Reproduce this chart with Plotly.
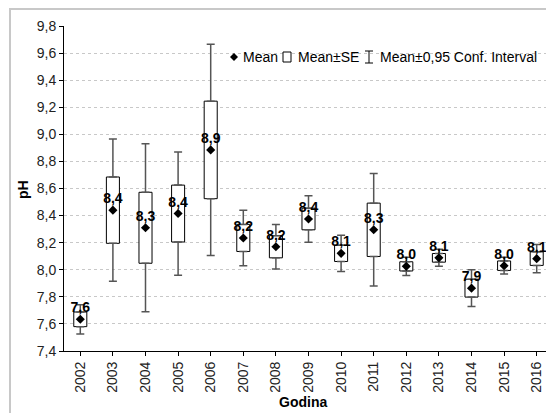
import plotly.graph_objects as go

years = ['2002', '2003', '2004', '2005', '2006', '2007', '2008', '2009',
         '2010', '2011', '2012', '2013', '2014', '2015', '2016']
means = [7.634, 8.44, 8.31, 8.415, 8.885, 8.235, 8.17, 8.375,
         8.121, 8.295, 8.025, 8.088, 7.864, 8.03, 8.082]
se = [0.054, 0.245, 0.262, 0.21, 0.36, 0.10, 0.082, 0.08,
      0.06, 0.197, 0.034, 0.032, 0.066, 0.035, 0.05]
ci = [0.108, 0.525, 0.62, 0.455, 0.78, 0.205, 0.165, 0.172,
      0.133, 0.415, 0.067, 0.063, 0.136, 0.062, 0.104]

y_ticks = [7.4, 7.6, 7.8, 8.0, 8.2, 8.4, 8.6, 8.8, 9.0, 9.2, 9.4, 9.6, 9.8]
y_ticktext = [f'{v:.1f}'.replace('.', ',') for v in y_ticks]
labels = [f'{m:.1f}'.replace('.', ',') for m in means]

FONT = 'Liberation Sans, Arial, sans-serif'
WHISK = '#555555'

box_lo = [m - s for m, s in zip(means, se)]
box_hi = [m + s for m, s in zip(means, se)]
whisk_len = [c - s for c, s in zip(ci, se)]
zeros = [0] * len(years)

fig = go.Figure()

# whiskers: upper part from box top, lower part from box bottom
fig.add_trace(go.Scatter(
    x=years, y=box_hi, mode='markers',
    marker=dict(size=1, color='rgba(0,0,0,0)'),
    error_y=dict(type='data', symmetric=False, array=whisk_len, arrayminus=zeros,
                 color=WHISK, thickness=1.5, width=4),
    showlegend=False, hoverinfo='skip', cliponaxis=False
))
fig.add_trace(go.Scatter(
    x=years, y=box_lo, mode='markers',
    marker=dict(size=1, color='rgba(0,0,0,0)'),
    error_y=dict(type='data', symmetric=False, array=zeros, arrayminus=whisk_len,
                 color=WHISK, thickness=1.5, width=4),
    showlegend=False, hoverinfo='skip', cliponaxis=False
))

# Mean ± SE box
fig.add_trace(go.Bar(
    x=years, y=[2 * s for s in se], base=box_lo, width=0.4,
    marker=dict(color='white', line=dict(color='black', width=1)),
    showlegend=False
))

# mean points
fig.add_trace(go.Scatter(
    x=years, y=means, mode='markers',
    marker=dict(symbol='diamond', size=7, color='black'),
    showlegend=False, cliponaxis=False
))
# mean labels (transparent small marker sets the text offset)
fig.add_trace(go.Scatter(
    x=years, y=means, mode='markers+text',
    marker=dict(size=4, color='rgba(0,0,0,0)'),
    text=labels, textposition='top center',
    textfont=dict(family=FONT, size=14, color='black', weight='bold'),
    showlegend=False, cliponaxis=False, hoverinfo='skip'
))

# page pixel -> paper coords (plot area spans page px 64..553 and 26..351)
def px_x(p):
    return (p - 64) / 489

def px_y(p):
    return (351 - p) / 325

ly = px_y(57)
shapes = [
    # outer frame
    dict(type='rect', xref='paper', yref='paper', x0=px_x(10), x1=px_x(600),
         y0=px_y(450), y1=px_y(9), line=dict(color='#c8c8c8', width=2)),
    # legend: diamond
    dict(type='path', xref='paper', yref='paper', xsizemode='pixel', ysizemode='pixel',
         xanchor=px_x(234), yanchor=ly, path='M -4 0 L 0 4 L 4 0 L 0 -4 Z',
         fillcolor='black', line=dict(color='black', width=0)),
    # legend: square
    dict(type='rect', xref='paper', yref='paper', xsizemode='pixel', ysizemode='pixel',
         xanchor=px_x(287), yanchor=ly, x0=-4, x1=4, y0=-5, y1=5,
         fillcolor='white', line=dict(color='black', width=1)),
    # legend: I-beam
    dict(type='line', xref='paper', yref='paper', xsizemode='pixel', ysizemode='pixel',
         xanchor=px_x(369), yanchor=ly, x0=0, x1=0, y0=-6, y1=6,
         line=dict(color='black', width=1)),
    dict(type='line', xref='paper', yref='paper', xsizemode='pixel', ysizemode='pixel',
         xanchor=px_x(369), yanchor=ly, x0=-4, x1=4, y0=6, y1=6,
         line=dict(color='black', width=1)),
    dict(type='line', xref='paper', yref='paper', xsizemode='pixel', ysizemode='pixel',
         xanchor=px_x(369), yanchor=ly, x0=-4, x1=4, y0=-6, y1=-6,
         line=dict(color='black', width=1)),
]

legend_items = [('Mean', 241), ('Mean±SE', 296), ('Mean±0,95 Conf. Interval', 378)]
annotations = [
    dict(text=t, x=px_x(p), y=ly, xref='paper', yref='paper', xanchor='left',
         yanchor='middle', showarrow=False, font=dict(family=FONT, size=14, color='black'))
    for t, p in legend_items
]
annotations.append(dict(text='<b>pH</b>', x=px_x(23), y=px_y(190), xref='paper', yref='paper',
                        xanchor='center', yanchor='middle', textangle=-90, showarrow=False,
                        font=dict(family=FONT, size=14, color='black')))
annotations.append(dict(text='<b>Godina</b>', x=px_x(303), y=px_y(402), xref='paper',
                        yref='paper', xanchor='center', yanchor='middle', showarrow=False,
                        font=dict(family=FONT, size=14, color='black')))

# the page body adds an 8px margin, so the figure is 8px smaller and shifted
fig.update_layout(
    width=546, height=405,
    margin=dict(l=56, r=1, t=18, b=62, autoexpand=False),
    paper_bgcolor='white', plot_bgcolor='white',
    barmode='overlay',
    showlegend=False,
    shapes=shapes,
    annotations=annotations,
    xaxis=dict(
        type='category', range=[-0.5, 14.5], automargin=False,
        showline=True, linecolor='black', linewidth=1,
        ticks='outside', ticklen=4, tickcolor='black',
        tickangle=-90, tickfont=dict(family=FONT, size=14, color='#222222'),
        showgrid=False,
    ),
    yaxis=dict(
        range=[7.4, 9.8], tickvals=y_ticks, ticktext=y_ticktext, automargin=False,
        showline=True, linecolor='black', linewidth=1,
        ticks='outside', ticklen=4, tickcolor='black',
        tickfont=dict(family=FONT, size=14, color='#222222'),
        showgrid=True, gridcolor='#c8c8c8', griddash='dot', gridwidth=1,
        zeroline=False,
    ),
)

fig.write_html('out.html')
